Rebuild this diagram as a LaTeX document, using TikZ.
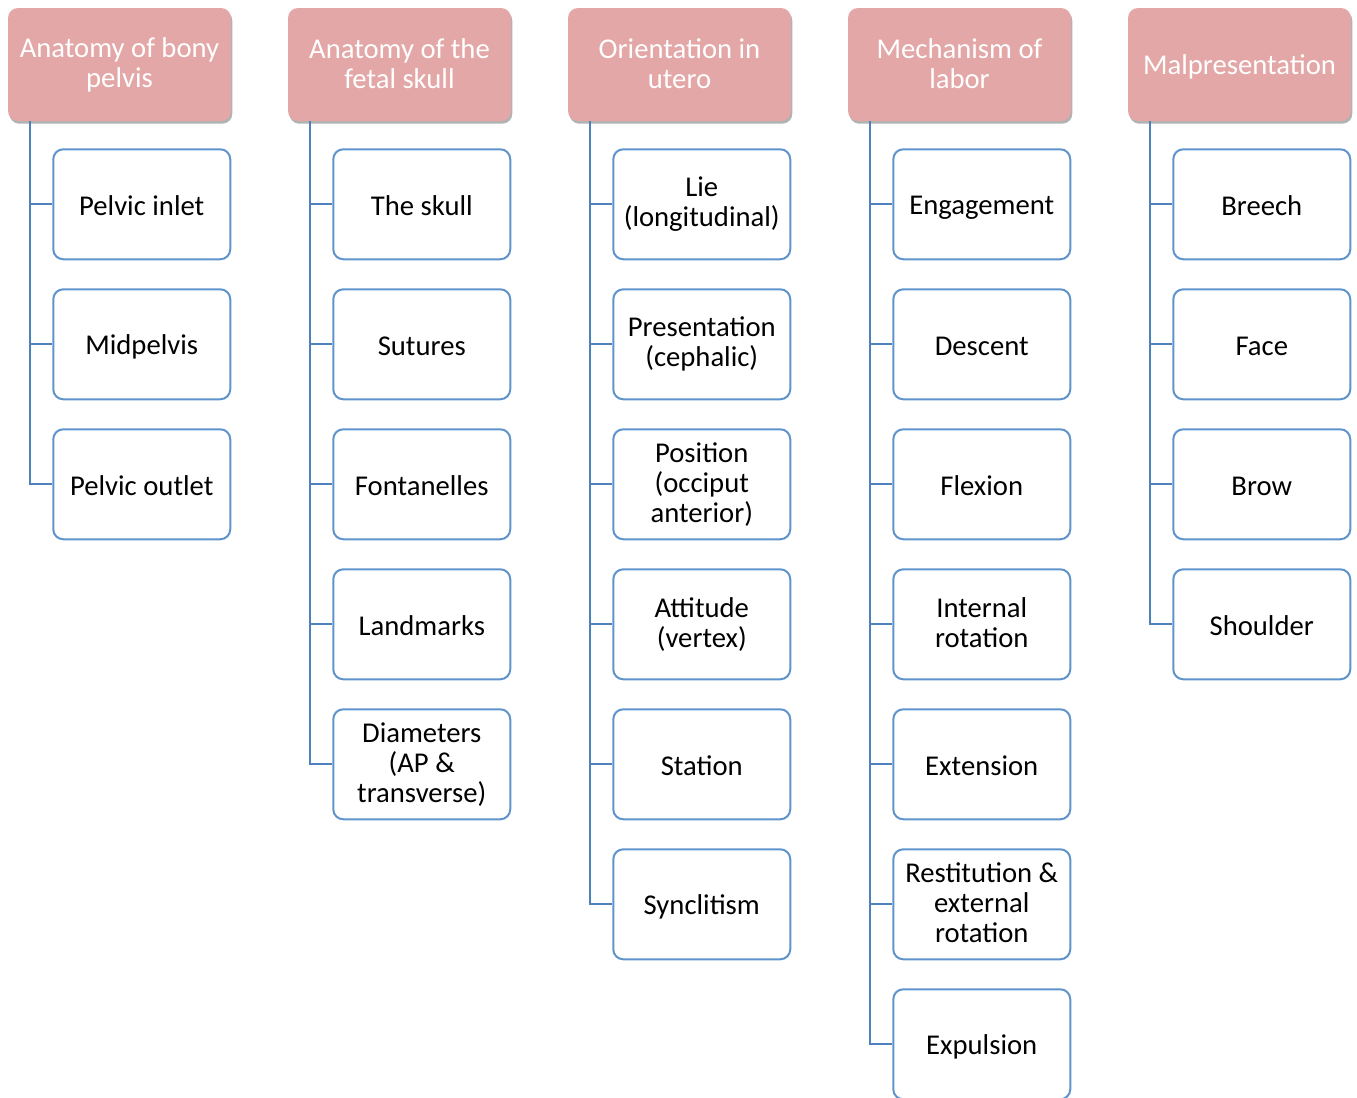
\documentclass[tikz,border=0pt]{standalone}
\usepackage{fontspec}
\setmainfont{Carlito}
\usetikzlibrary{positioning,shadows}
\definecolor{headfill}{HTML}{E2A7A6}
\definecolor{linkblue}{HTML}{4F81BD}
\definecolor{boxblue}{HTML}{5F93CC}
\newcommand\boxstrut{\rule[-2pt]{0pt}{21pt}}

\begin{document}
\begin{tikzpicture}[x=0.75pt, y=-0.75pt,
    every node/.style={font=\fontsize{21.5}{22.5}\selectfont, align=center,
      rounded corners=7.5pt, inner sep=0,
      execute at begin node=\boxstrut, execute at end node=\boxstrut},
    head/.style={fill=headfill, text=white, minimum width=167.25pt,
      minimum height=84.75pt, drop shadow={shadow xshift=1pt,
        shadow yshift=-2pt, opacity=0.3, fill=black}},
    item/.style={draw=boxblue, line width=1.5pt, fill=white,
      minimum width=132.75pt, minimum height=82.5pt},
    link/.style={draw=linkblue, line width=1.5pt}]
  \useasboundingbox (0,0) rectangle (1357,1097);
  \foreach \title/\items [count=\i] in {
      {Anatomy of bony\\pelvis}/{Pelvic inlet,Midpelvis,Pelvic outlet},
      {Anatomy of the\\fetal skull}/{The skull,Sutures,Fontanelles,Landmarks,
        Diameters\\(AP \&\\transverse)},
      {Orientation in\\utero}/{Lie\\(longitudinal),Presentation\\(cephalic),
        Position\\(occiput\\anterior),Attitude\\(vertex),Station,Synclitism},
      {Mechanism of\\labor}/{Engagement,Descent,Flexion,Internal\\rotation,
        Extension,Restitution \&\\external\\rotation,Expulsion},
      {Malpresentation}/{Breech,Face,Brow,Shoulder}}{
    \node[head] (h\i) at (119.5+280*\i-280, 64.5) {\title};
    \foreach \txt [count=\k] in \items {
      \pgfmathsetmacro\dy{0.75*(27+140*(\k-1))}
      \node[item, below=\dy pt of h\i.south east, anchor=north east]
        (h\i-\k) {\txt};
      \draw[link] ([xshift=16.5pt]h\i.south west) |- (h\i-\k.west);
    }
  }
\end{tikzpicture}
\end{document}
